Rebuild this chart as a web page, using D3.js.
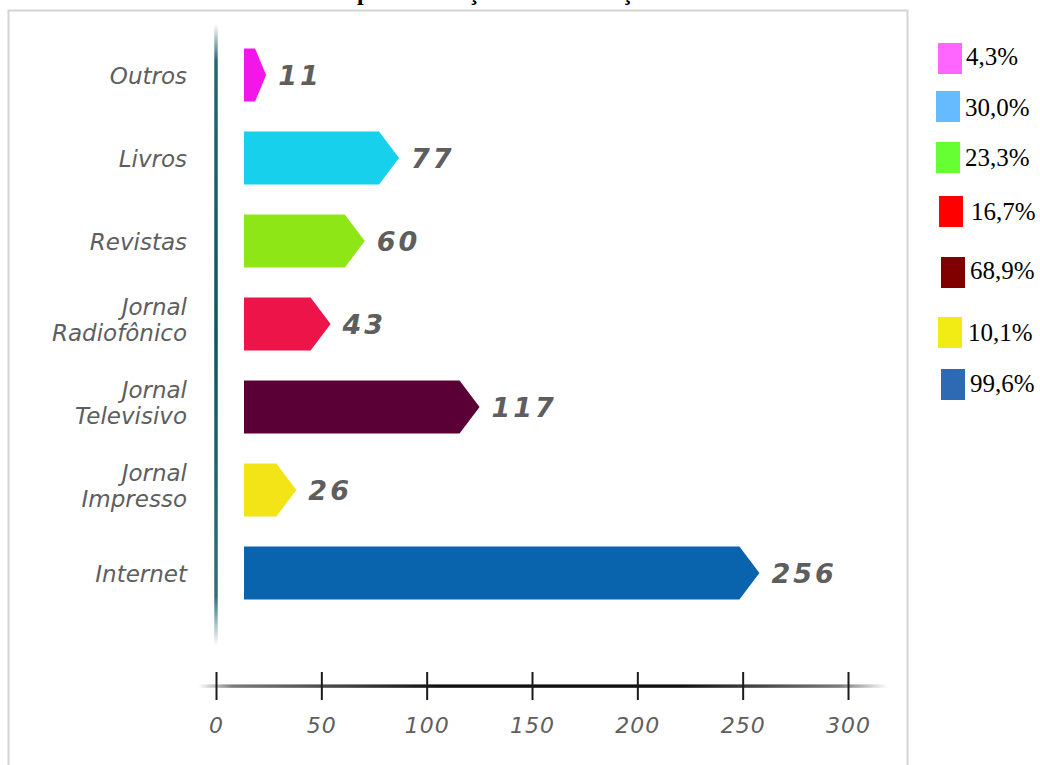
<!DOCTYPE html>
<html>
<head>
<meta charset="utf-8">
<script src="https://cdn.jsdelivr.net/npm/d3@7"></script>
<style>
  html, body { margin: 0; padding: 0; background: #ffffff; }
  svg { display: block; }
</style>
</head>
<body>
<div id="chart"></div>
<script>
// Information sources: how many respondents use each one
const categories = ["Outros", "Livros", "Revistas", "Jornal Radiofônico", "Jornal Televisivo", "Jornal Impresso", "Internet"];
const labelLines = [["Outros"], ["Livros"], ["Revistas"], ["Jornal", "Radiofônico"], ["Jornal", "Televisivo"], ["Jornal", "Impresso"], ["Internet"]];
const counts = [11, 77, 60, 43, 117, 26, 256];
const barColors = ["#f216e8", "#16d0ec", "#8fe616", "#ec1449", "#5a0036", "#f2e416", "#0a63ad"];

// Share of respondents per source (legend on the right)
const percentLabels = ["4,3%", "30,0%", "23,3%", "16,7%", "68,9%", "10,1%", "99,6%"];
const legendColors = ["#ff66ff", "#66bbff", "#66ff33", "#ff0000", "#800000", "#f2ec14", "#2e6ab4"];

// Axis ticks
const tickValues = [0, 50, 100, 150, 200, 250, 300];

const titleText = "Meios utilizados para obtenção de informação";

const W = 1040, H = 765;
const svg = d3.select("#chart").append("svg")
  .attr("width", W).attr("height", H);

const defs = svg.append("defs");

// Tapered strokes for the two axis lines
const vGrad = defs.append("linearGradient").attr("id", "vAxisGrad")
  .attr("x1", 0).attr("y1", 0).attr("x2", 0).attr("y2", 1);
[[0, 0], [0.06, 0.9], [0.5, 1], [0.92, 0.85], [1, 0]].forEach(([o, a]) =>
  vGrad.append("stop").attr("offset", o).attr("stop-color", "#0d5561").attr("stop-opacity", a));

const hGrad = defs.append("linearGradient").attr("id", "hAxisGrad")
  .attr("x1", 0).attr("y1", 0).attr("x2", 1).attr("y2", 0);
[[0, 0], [0.05, 0.55], [0.35, 1], [0.7, 1], [0.93, 0.55], [1, 0]].forEach(([o, a]) =>
  hGrad.append("stop").attr("offset", o).attr("stop-color", "#111").attr("stop-opacity", a));

// Frame around the chart picture
svg.append("rect")
  .attr("x", 8.5).attr("y", 10.5)
  .attr("width", 899).attr("height", 800)
  .attr("fill", "none").attr("stroke", "#d4d4d4").attr("stroke-width", 2);

// Title (sits above the frame, mostly beyond the top edge)
const title = svg.append("text")
  .attr("y", 0)
  .attr("font-family", "Liberation Serif, Times New Roman, serif")
  .attr("font-weight", "bold")
  .attr("font-size", 24)
  .attr("fill", "#000")
  .text(titleText);
const pIdx = titleText.indexOf("para");
const pOffset = title.node().getSubStringLength(0, pIdx);
title.attr("x", 357 - pOffset);

// Scales
const axisX = d3.scaleLinear().domain([0, 300]).range([216, 848]);
const barX = d3.scaleLinear().domain([0, 300]).range([244, 848]);
const y = d3.scaleBand().domain(categories)
  .range([33.5, 614.5]).paddingInner(0.36).paddingOuter(0.18);

// Vertical axis line
svg.append("rect")
  .attr("x", axisX(0) - 1.75).attr("y", 24)
  .attr("width", 3.5).attr("height", 622)
  .attr("fill", "url(#vAxisGrad)");

// Horizontal axis
const axisY = 686;
svg.append("rect")
  .attr("x", 198).attr("y", axisY - 1.6)
  .attr("width", 690).attr("height", 3.4)
  .attr("fill", "url(#hAxisGrad)");

const xAxis = d3.axisBottom(axisX).tickValues(tickValues).tickSize(0).tickPadding(0);
const gAxis = svg.append("g").attr("transform", `translate(0,${axisY})`).call(xAxis);
gAxis.select(".domain").remove();
gAxis.selectAll(".tick").append("line")
  .attr("y1", -14).attr("y2", 14)
  .attr("stroke", "#1a1a1a").attr("stroke-width", 2);
gAxis.selectAll(".tick text")
  .attr("y", 47)
  .attr("dy", 0)
  .attr("font-family", "DejaVu Sans, sans-serif")
  .attr("font-style", "italic")
  .attr("font-size", 22)
  .attr("fill", "#5e5e5e")
  .attr("letter-spacing", 1)
  .attr("text-anchor", "middle");

// Arrow-shaped bars
function arrowPath(v, cat) {
  const x0 = barX(0), x1 = barX(v);
  const y0 = y(cat), h = y.bandwidth();
  const tip = Math.min(20, (x1 - x0) * 0.5);
  return `M${x0},${y0}L${x1 - tip},${y0}L${x1},${y0 + h / 2}L${x1 - tip},${y0 + h}L${x0},${y0 + h}Z`;
}

const rows = categories.map((c, i) => ({ cat: c, v: counts[i], color: barColors[i], lines: labelLines[i] }));

svg.append("g").selectAll("path").data(rows).join("path")
  .attr("d", d => arrowPath(d.v, d.cat))
  .attr("fill", d => d.color);

// Value labels after each arrow
svg.append("g").selectAll("text").data(rows).join("text")
  .attr("x", d => barX(d.v) + 12)
  .attr("y", d => y(d.cat) + y.bandwidth() / 2 + 10)
  .attr("font-family", "DejaVu Sans, sans-serif")
  .attr("font-style", "italic")
  .attr("font-weight", "bold")
  .attr("font-size", 27)
  .attr("letter-spacing", 3)
  .attr("fill", "#5e5e5e")
  .text(d => d.v);

// Category labels to the left of the axis
const catG = svg.append("g").selectAll("text").data(rows).join("text")
  .attr("text-anchor", "end")
  .attr("font-family", "DejaVu Sans, sans-serif")
  .attr("font-style", "italic")
  .attr("font-size", 23)
  .attr("fill", "#5e5e5e")
  .attr("transform", d => {
    const c = y(d.cat) + y.bandwidth() / 2;
    return `translate(187,${d.lines.length === 1 ? c + 9 : c - 9})`;
  });
catG.selectAll("tspan").data(d => d.lines).join("tspan")
  .attr("x", 0)
  .attr("dy", (d, i) => i === 0 ? 0 : 26)
  .text(d => d);

// Legend with percentages
const legendRows = [
  { sx: 938, sy: 43, tx: 966, ty: 65 },
  { sx: 936, sy: 91, tx: 965, ty: 116 },
  { sx: 936, sy: 142, tx: 965, ty: 166 },
  { sx: 939, sy: 196, tx: 971, ty: 220 },
  { sx: 941, sy: 257, tx: 970, ty: 279 },
  { sx: 938, sy: 317, tx: 968, ty: 341 },
  { sx: 941, sy: 369, tx: 970, ty: 392 }
];
const leg = svg.append("g").selectAll("g").data(percentLabels).join("g");
leg.append("rect")
  .attr("x", (d, i) => legendRows[i].sx)
  .attr("y", (d, i) => legendRows[i].sy)
  .attr("width", 24).attr("height", 31)
  .attr("fill", (d, i) => legendColors[i]);
leg.append("text")
  .attr("x", (d, i) => legendRows[i].tx)
  .attr("y", (d, i) => legendRows[i].ty)
  .attr("font-family", "Liberation Serif, Times New Roman, serif")
  .attr("font-size", 25)
  .attr("fill", "#000")
  .text(d => d);
</script>
</body>
</html>
